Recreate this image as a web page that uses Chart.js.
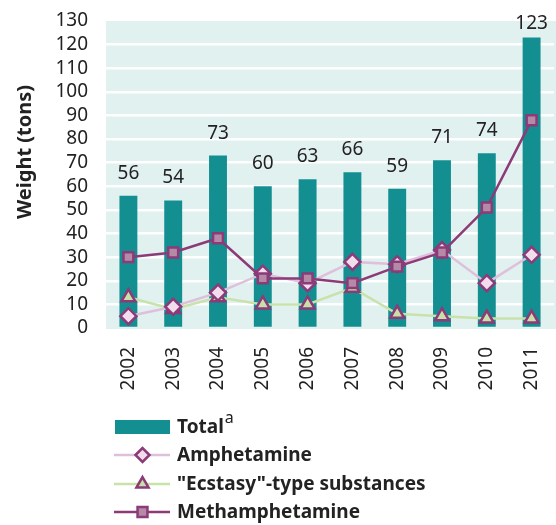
<!DOCTYPE html>
<html>
<head>
<meta charset="utf-8">
<script src="https://cdn.jsdelivr.net/npm/chart.js@4"></script>
<style>
  html, body { margin: 0; padding: 0; background: #fff; }
  #wrap { width: 556px; height: 525px; }
</style>
</head>
<body>
<div id="wrap"><canvas id="chart" width="556" height="525"></canvas></div>
<script>
// 数据
const years = ['2002', '2003', '2004', '2005', '2006', '2007', '2008', '2009', '2010', '2011'];
const totalValues = [56, 54, 73, 60, 63, 66, 59, 71, 74, 123];
const amphetamineValues = [5, 9, 15, 23, 19, 28, 27, 33, 19, 31];
const ecstasyValues = [13, 8, 13, 10, 10, 17, 6, 5, 4, 4];
const methValues = [30, 32, 38, 21, 21, 19, 26, 32, 51, 88];
const yTicks = [0, 10, 20, 30, 40, 50, 60, 70, 80, 90, 100, 110, 120, 130];

const FONT = "'Noto Sans', sans-serif";
const TEAL = '#138f92';
const PURPLE = '#8c3a78';
const CLEAR = 'rgba(0,0,0,0)';

// 背景 + 纵轴标题
const bgPlugin = {
  id: 'bg',
  beforeDraw(chart) {
    const { ctx, chartArea: a } = chart;
    ctx.save();
    ctx.fillStyle = '#e1f1ef';
    ctx.fillRect(a.left, a.top, a.right - a.left + 2, a.bottom - a.top + 1);
    // 纵轴标题
    ctx.translate(25, 152);
    ctx.rotate(-Math.PI / 2);
    ctx.font = 'bold 20px ' + FONT;
    ctx.fillStyle = '#222';
    ctx.textAlign = 'center';
    ctx.textBaseline = 'middle';
    ctx.fillText('Weight (tons)', 0, 0);
    ctx.restore();
  }
};

// 柱顶数值 + 图例
const labelPlugin = {
  id: 'labels',
  afterDatasetsDraw(chart) {
    const { ctx } = chart;
    const meta = chart.getDatasetMeta(0);
    ctx.save();
    ctx.font = '19px ' + FONT;
    ctx.fillStyle = '#222';
    ctx.textAlign = 'center';
    ctx.textBaseline = 'alphabetic';
    meta.data.forEach((bar, i) => {
      const y = Math.max(bar.y - 17, 29);
      ctx.fillText(totalValues[i], bar.x, y);
    });
    ctx.restore();
  },
  afterDraw(chart) {
    const { ctx } = chart;
    ctx.save();
    const x0 = 115, x1 = 170, tx = 177;
    const rows = [427, 455, 484, 512];
    // Total
    ctx.fillStyle = TEAL;
    ctx.fillRect(x0, rows[0] - 7, x1 - x0, 14);
    ctx.font = 'bold 19px ' + FONT;
    ctx.fillStyle = '#222';
    ctx.textBaseline = 'middle';
    ctx.fillText('Total', tx, rows[0] + 1);
    const w = ctx.measureText('Total').width;
    ctx.font = '16px ' + FONT;
    ctx.fillText('a', tx + w + 1, rows[0] - 9);

    const items = [
      { label: 'Amphetamine', line: '#dfc0dc', fill: '#f1dded', style: 'rectRot', r: 7 },
      { label: '"Ecstasy"-type substances', line: '#c8e2aa', fill: '#c9dfa9', style: 'triangle', r: 7 },
      { label: 'Methamphetamine', line: PURPLE, fill: '#b48aa6', style: 'rect', r: 7 }
    ];
    items.forEach((it, k) => {
      const y = rows[k + 1];
      ctx.strokeStyle = it.line;
      ctx.lineWidth = 2.5;
      ctx.beginPath();
      ctx.moveTo(x0 - 1, y);
      ctx.lineTo(x1, y);
      ctx.stroke();
      ctx.fillStyle = it.fill;
      ctx.strokeStyle = PURPLE;
      ctx.lineWidth = 2.5;
      Chart.helpers.drawPoint(ctx, { pointStyle: it.style, radius: it.r, borderWidth: 2.5, rotation: 0 }, (x0 + x1) / 2, y);
      ctx.font = 'bold 19px ' + FONT;
      ctx.fillStyle = '#222';
      ctx.fillText(it.label, tx, y + 1);
    });
    ctx.restore();
  }
};

function lineSet(label, data, lineColor, fill, style, radius, order) {
  return {
    type: 'line',
    label: label,
    data: data,
    borderColor: lineColor,
    borderWidth: 2.5,
    pointStyle: style,
    pointRadius: radius,
    pointBackgroundColor: fill,
    pointBorderColor: PURPLE,
    pointBorderWidth: 2.5,
    tension: 0,
    order: order
  };
}

new Chart(document.getElementById('chart'), {
  type: 'bar',
  data: {
    labels: years,
    datasets: [
      {
        label: 'Total',
        data: totalValues,
        backgroundColor: TEAL,
        categoryPercentage: 1,
        barPercentage: 0.4,
        order: 4
      },
      lineSet('"Ecstasy"-type substances', ecstasyValues, '#c8e2aa', '#c9dfa9', 'triangle', 8, 3),
      lineSet('Amphetamine', amphetamineValues, '#dfc0dc', '#f1dded', 'rectRot', 8, 2),
      lineSet('Methamphetamine', methValues, PURPLE, '#b48aa6', 'rect', 7, 1)
    ]
  },
  options: {
    responsive: false,
    animation: false,
    layout: { autoPadding: false, padding: { top: 21, right: 2, bottom: 127, left: 0 } },
    plugins: {
      legend: { display: false },
      tooltip: { enabled: false }
    },
    scales: {
      x: {
        offset: true,
        grid: { color: CLEAR, drawOnChartArea: false, tickColor: CLEAR, tickLength: 19 },
        border: { display: false },
        ticks: {
          color: '#222',
          font: { family: FONT, size: 19 },
          minRotation: 90,
          maxRotation: 90,
          autoSkip: false,
          padding: 0
        },
        afterFit(scale) {
          scale.height = 70;
          scale.paddingLeft = 0;
          scale.paddingRight = 0;
        }
      },
      y: {
        min: 0,
        max: 130,
        afterBuildTicks(scale) { scale.ticks = yTicks.map(v => ({ value: v })); },
        grid: {
          color: ctx => (ctx.tick.value === 0 || ctx.tick.value === 130) ? CLEAR : '#ffffff',
          lineWidth: 2.5,
          tickColor: CLEAR,
          tickLength: 18
        },
        border: { display: false },
        ticks: {
          color: '#222',
          font: { family: FONT, size: 19 },
          autoSkip: false,
          padding: 0
        },
        afterFit(scale) { scale.width = 106; }
      }
    }
  },
  plugins: [bgPlugin, labelPlugin]
});
</script>
</body>
</html>
